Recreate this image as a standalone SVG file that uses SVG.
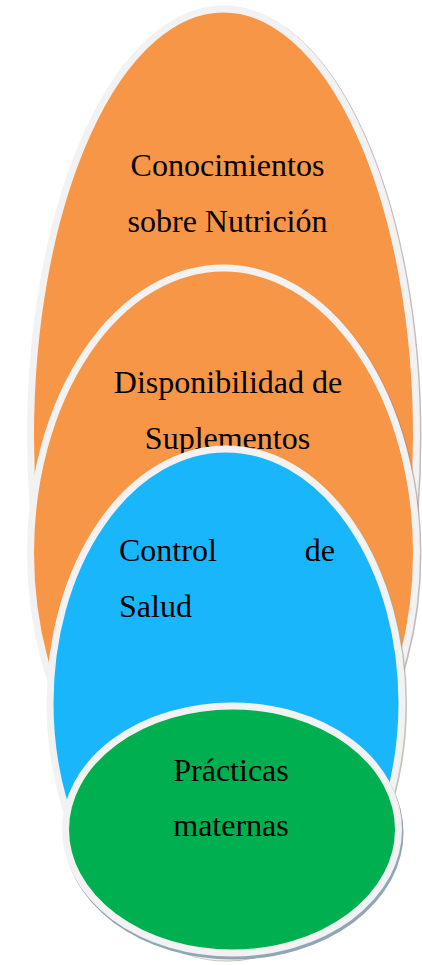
<svg xmlns="http://www.w3.org/2000/svg" width="422" height="965" viewBox="0 0 422 965">
<style>
.shape{stroke:#f2f2f2;stroke-width:7}
.orange{fill:#f79646}
.blue{fill:#1ab6fb}
.green{fill:#00b050}
.sh-o{fill:none;stroke:#a58b8b;stroke-width:7;opacity:0.6}
.sh-b{fill:none;stroke:#a4ad98;stroke-width:7;opacity:0.7}
.sh-g{fill:#8fa6b4;stroke:#8fa6b4;stroke-width:7}
.lbl{font-family:"Liberation Serif","Times New Roman",serif;font-size:32px;fill:#000}
.c{text-anchor:middle}
</style>
<rect width="422" height="965" fill="#ffffff"/>
<g id="connectors"></g>
<g id="node-conocimientos">
<ellipse class="sh-o" cx="225" cy="437" rx="193" ry="427"/>
<ellipse class="shape orange" cx="223.5" cy="436" rx="193" ry="427"/>
<text class="lbl c" x="227.5" y="176">Conocimientos</text>
<text class="lbl c" x="227.5" y="232">sobre Nutrición</text>
</g>
<g id="node-disponibilidad">
<ellipse class="sh-o" cx="225" cy="554" rx="193" ry="285"/>
<ellipse class="shape orange" cx="223.5" cy="553" rx="193" ry="285"/>
<text class="lbl c" x="228" y="393">Disponibilidad de</text>
<text class="lbl c" x="227.5" y="449">Suplementos</text>
</g>
<g id="node-control">
<ellipse class="sh-b" cx="227.5" cy="704" rx="176" ry="254"/>
<ellipse class="shape blue" cx="226" cy="703" rx="176" ry="254"/>
<text class="lbl" x="119" y="561">Control</text>
<text class="lbl" x="335" y="561" text-anchor="end">de</text>
<text class="lbl" x="119" y="617">Salud</text>
</g>
<g id="node-practicas">
<ellipse class="sh-g" cx="233.5" cy="832.5" rx="166.5" ry="123.5"/>
<ellipse class="shape green" cx="232" cy="829.5" rx="166.5" ry="123.5"/>
<text class="lbl c" x="231" y="781">Prácticas</text>
<text class="lbl c" x="231" y="836">maternas</text>
</g>
</svg>
